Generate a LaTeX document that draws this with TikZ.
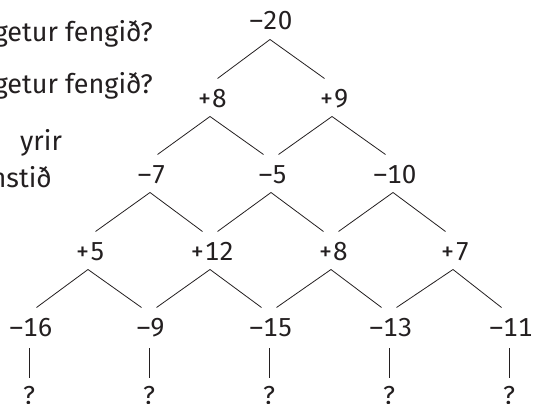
\documentclass[tikz,border=0pt]{standalone}
\usepackage{fontspec}
\setmainfont{Fira Sans}
\newfontfamily\numfont[Numbers=Monospaced]{Fira Sans}
\definecolor{ink}{RGB}{35,31,32}
\tikzset{
  num/.style={anchor=base, inner sep=0pt, text=ink, font=\numfont\fontsize{26}{30}\selectfont},
  txt/.style={inner sep=0pt, text=ink, font=\fontsize{27}{32}\selectfont},
  branch/.style={draw=ink, line width=0.8pt}
}
\begin{document}
\begin{tikzpicture}[x=1pt, y=-1pt]
	\useasboundingbox (0,0) rectangle (536,404);
	
	% Texti til vinstri
	\node[txt, anchor=base east] (t1) at (153,42) {getur fengið?};
	\node[txt, anchor=base east] (t2) at (153,93) {getur fengið?};
	\node[txt, anchor=base west] (t3) at (20,150) {yrir};
	\node[txt, anchor=base east] (t4) at (52,187) {nstið};
	
	% Tölurnar í pýramídanum
	\node[num] (a) at (271,30) {–20};
	\node[num] (b1) at (212,107) {+8};
	\node[num] (b2) at (334,107) {+9};
	\node[num] (c1) at (152,183) {–7};
	\node[num] (c2) at (273,183) {–5};
	\node[num] (c3) at (395,183) {–10};
	\node[num] (d1) at (90,260) {+5};
	\node[num] (d2) at (212,260) {+12};
	\node[num] (d3) at (333,260) {+8};
	\node[num] (d4) at (455,260) {+7};
	\node[num] (e1) at (31,336) {–16};
	\node[num] (e2) at (151,336) {–9};
	\node[num] (e3) at (271,336) {–15};
	\node[num] (e4) at (391,336) {–13};
	\node[num] (e5) at (511,336) {–11};
	\node[num] (q1) at (29,404) {?};
	\node[num] (q2) at (149,404) {?};
	\node[num] (q3) at (269,404) {?};
	\node[num] (q4) at (389,404) {?};
	\node[num] (q5) at (509,404) {?};
	
	% Greinar
	\draw[branch] ([xshift=5.5pt,yshift=28.5pt]b1.base) -- ([xshift=-1pt,yshift=-9.5pt]a.base) -- ([xshift=-9.5pt,yshift=28.5pt]b2.base);
	\draw[branch] ([xshift=5.5pt,yshift=28.5pt]c1.base) -- ([xshift=-2pt,yshift=-9.5pt]b1.base) -- ([xshift=-9.5pt,yshift=28.5pt]c2.base);
	\draw[branch] ([xshift=5.5pt,yshift=28.5pt]c2.base) -- ([xshift=-2pt,yshift=-9.5pt]b2.base) -- ([xshift=-9.5pt,yshift=28.5pt]c3.base);
	\draw[branch] ([xshift=5.5pt,yshift=28.5pt]d1.base) -- ([xshift=-2pt,yshift=-9.5pt]c1.base) -- ([xshift=-9.5pt,yshift=28.5pt]d2.base);
	\draw[branch] ([xshift=5.5pt,yshift=28.5pt]d2.base) -- ([xshift=-2pt,yshift=-9.5pt]c2.base) -- ([xshift=-9.5pt,yshift=28.5pt]d3.base);
	\draw[branch] ([xshift=5.5pt,yshift=28.5pt]d3.base) -- ([xshift=-2pt,yshift=-9.5pt]c3.base) -- ([xshift=-9.5pt,yshift=28.5pt]d4.base);
	\draw[branch] ([xshift=5.5pt,yshift=28.5pt]e1.base) -- ([xshift=-2pt,yshift=-9.5pt]d1.base) -- ([xshift=-9.5pt,yshift=28.5pt]e2.base);
	\draw[branch] ([xshift=5.5pt,yshift=28.5pt]e2.base) -- ([xshift=-2pt,yshift=-9.5pt]d2.base) -- ([xshift=-9.5pt,yshift=28.5pt]e3.base);
	\draw[branch] ([xshift=5.5pt,yshift=28.5pt]e3.base) -- ([xshift=-2pt,yshift=-9.5pt]d3.base) -- ([xshift=-9.5pt,yshift=28.5pt]e4.base);
	\draw[branch] ([xshift=5.5pt,yshift=28.5pt]e4.base) -- ([xshift=-2pt,yshift=-9.5pt]d4.base) -- ([xshift=-9.5pt,yshift=28.5pt]e5.base);
	
	% Lóðréttu strikin
	\draw[branch] ([xshift=-2pt,yshift=-12pt]e1.base) -- ([yshift=26pt]q1.base);
	\draw[branch] ([xshift=-2pt,yshift=-12pt]e2.base) -- ([yshift=26pt]q2.base);
	\draw[branch] ([xshift=-2pt,yshift=-12pt]e3.base) -- ([yshift=26pt]q3.base);
	\draw[branch] ([xshift=-2pt,yshift=-12pt]e4.base) -- ([yshift=26pt]q4.base);
	\draw[branch] ([xshift=-2pt,yshift=-12pt]e5.base) -- ([yshift=26pt]q5.base);
\end{tikzpicture}
\end{document}
